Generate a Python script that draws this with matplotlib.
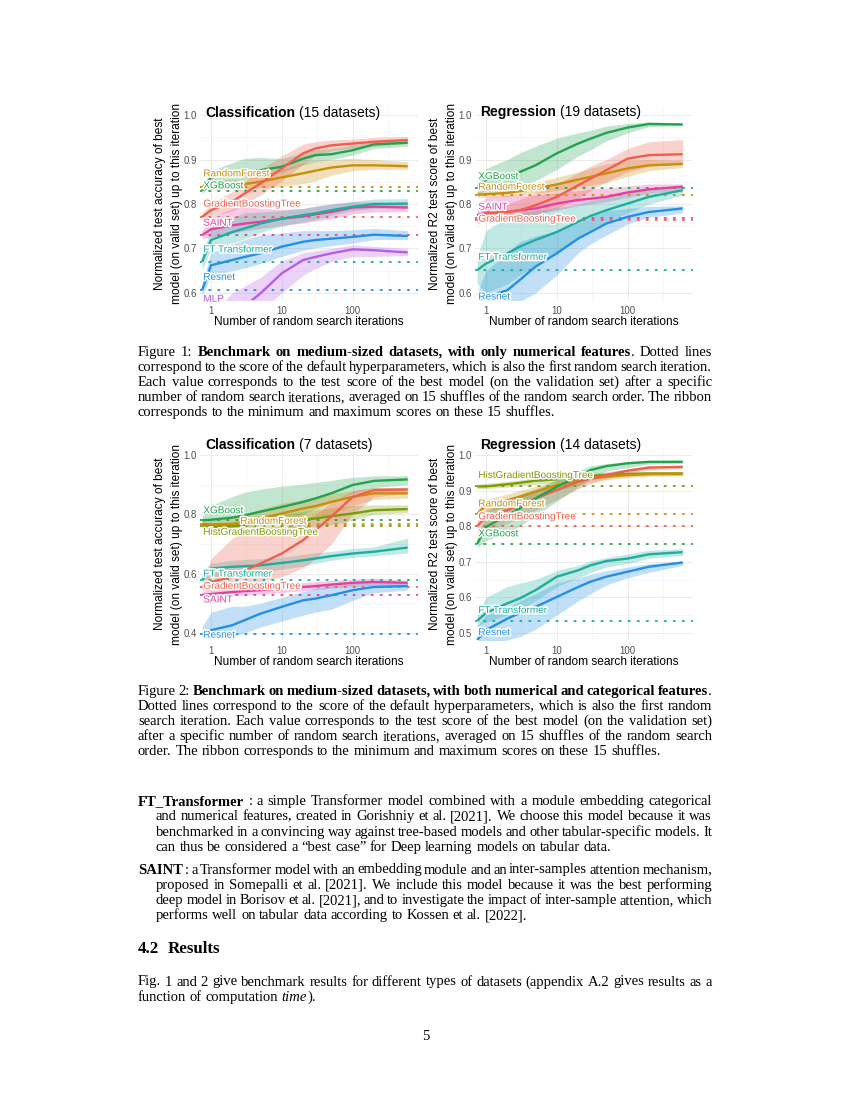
import re
import matplotlib
matplotlib.use("Agg")
import matplotlib.pyplot as plt
import matplotlib.patheffects as pe
from matplotlib.ticker import NullFormatter

# ======================= DATA =======================
ITER = [0.75, 1, 2, 3, 5, 10, 20, 30, 50, 100, 200, 600]
X_TICKS = [1, 10, 100]
X_TICK_LABELS = ["1", "10", "100"]

# ---- Figure 1, Classification (15 datasets) ----
f1c_names = ["RandomForest", "XGBoost", "GradientBoostingTree", "SAINT",
             "FT Transformer", "Resnet", "MLP"]
f1c_default = [0.839, 0.830, 0.771, 0.730, 0.670, 0.606, 0.500]
f1c_rf = [0.839, 0.842, 0.843, 0.845, 0.850, 0.860, 0.869, 0.875, 0.882, 0.887, 0.887, 0.885]
f1c_rf_lo = [0.832, 0.832, 0.833, 0.834, 0.836, 0.840, 0.846, 0.852, 0.865, 0.875, 0.878, 0.878]
f1c_rf_hi = [0.846, 0.852, 0.855, 0.857, 0.864, 0.878, 0.893, 0.898, 0.900, 0.903, 0.900, 0.895]
f1c_xgb = [0.830, 0.860, 0.869, 0.872, 0.876, 0.884, 0.902, 0.910, 0.912, 0.921, 0.934, 0.938]
f1c_xgb_lo = [0.822, 0.845, 0.852, 0.856, 0.862, 0.872, 0.888, 0.896, 0.900, 0.910, 0.925, 0.930]
f1c_xgb_hi = [0.838, 0.875, 0.893, 0.903, 0.905, 0.902, 0.915, 0.922, 0.925, 0.932, 0.942, 0.946]
f1c_gbt = [0.771, 0.786, 0.805, 0.824, 0.846, 0.880, 0.914, 0.925, 0.932, 0.936, 0.940, 0.944]
f1c_gbt_lo = [0.762, 0.772, 0.785, 0.800, 0.820, 0.852, 0.890, 0.908, 0.920, 0.926, 0.930, 0.936]
f1c_gbt_hi = [0.780, 0.800, 0.828, 0.850, 0.878, 0.908, 0.935, 0.940, 0.944, 0.946, 0.950, 0.952]
f1c_saint = [0.730, 0.743, 0.752, 0.756, 0.760, 0.767, 0.772, 0.777, 0.782, 0.792, 0.794, 0.792]
f1c_saint_lo = [0.722, 0.726, 0.734, 0.740, 0.745, 0.752, 0.757, 0.762, 0.767, 0.778, 0.782, 0.783]
f1c_saint_hi = [0.740, 0.770, 0.790, 0.795, 0.790, 0.788, 0.790, 0.795, 0.800, 0.805, 0.805, 0.800]
f1c_ft = [0.670, 0.719, 0.737, 0.745, 0.756, 0.767, 0.775, 0.779, 0.786, 0.794, 0.800, 0.801]
f1c_ft_lo = [0.652, 0.700, 0.712, 0.722, 0.736, 0.750, 0.760, 0.765, 0.775, 0.785, 0.790, 0.792]
f1c_ft_hi = [0.690, 0.742, 0.770, 0.780, 0.782, 0.785, 0.790, 0.795, 0.800, 0.806, 0.811, 0.812]
f1c_resnet = [0.606, 0.662, 0.674, 0.681, 0.689, 0.704, 0.715, 0.719, 0.722, 0.726, 0.731, 0.728]
f1c_resnet_lo = [0.592, 0.640, 0.650, 0.656, 0.666, 0.682, 0.696, 0.702, 0.706, 0.712, 0.720, 0.720]
f1c_resnet_hi = [0.620, 0.690, 0.710, 0.720, 0.730, 0.735, 0.740, 0.740, 0.740, 0.742, 0.745, 0.740]
f1c_mlp = [0.500, 0.520, 0.550, 0.570, 0.599, 0.644, 0.674, 0.681, 0.689, 0.698, 0.696, 0.691]
f1c_mlp_lo = [0.480, 0.500, 0.520, 0.540, 0.560, 0.600, 0.640, 0.655, 0.670, 0.682, 0.682, 0.684]
f1c_mlp_hi = [0.520, 0.550, 0.600, 0.615, 0.635, 0.672, 0.690, 0.695, 0.700, 0.708, 0.705, 0.700]

# ---- Figure 1, Regression (19 datasets) ----
f1r_names = ["XGBoost", "RandomForest", "SAINT", "GradientBoostingTree",
             "FT Transformer", "Resnet"]
f1r_default = [0.835, 0.821, 0.768, 0.763, 0.651, 0.550]
f1r_xgb = [0.835, 0.855, 0.863, 0.872, 0.887, 0.914, 0.936, 0.947, 0.960, 0.972, 0.980, 0.979]
f1r_xgb_lo = [0.822, 0.830, 0.835, 0.842, 0.852, 0.878, 0.908, 0.922, 0.942, 0.960, 0.974, 0.976]
f1r_xgb_hi = [0.848, 0.880, 0.900, 0.915, 0.930, 0.948, 0.960, 0.966, 0.975, 0.981, 0.985, 0.982]
f1r_rf = [0.821, 0.822, 0.825, 0.829, 0.835, 0.844, 0.855, 0.861, 0.869, 0.880, 0.887, 0.890]
f1r_rf_lo = [0.815, 0.815, 0.817, 0.820, 0.824, 0.830, 0.838, 0.842, 0.848, 0.862, 0.875, 0.882]
f1r_rf_hi = [0.828, 0.830, 0.834, 0.840, 0.848, 0.860, 0.872, 0.880, 0.890, 0.898, 0.900, 0.898]
f1r_saint = [0.775, 0.780, 0.782, 0.786, 0.790, 0.801, 0.809, 0.812, 0.816, 0.826, 0.833, 0.839]
f1r_saint_lo = [0.762, 0.765, 0.768, 0.772, 0.776, 0.786, 0.796, 0.800, 0.805, 0.815, 0.824, 0.832]
f1r_saint_hi = [0.790, 0.815, 0.820, 0.820, 0.820, 0.825, 0.830, 0.834, 0.836, 0.840, 0.845, 0.845]
f1r_gbt = [0.763, 0.779, 0.782, 0.786, 0.797, 0.816, 0.842, 0.857, 0.876, 0.902, 0.910, 0.912]
f1r_gbt_lo = [0.755, 0.765, 0.768, 0.772, 0.776, 0.790, 0.812, 0.830, 0.850, 0.872, 0.885, 0.890]
f1r_gbt_hi = [0.772, 0.792, 0.800, 0.810, 0.825, 0.845, 0.870, 0.885, 0.900, 0.925, 0.940, 0.945]
f1r_ft = [0.651, 0.666, 0.689, 0.704, 0.719, 0.737, 0.760, 0.773, 0.786, 0.801, 0.816, 0.831]
f1r_ft_lo = [0.620, 0.600, 0.620, 0.640, 0.662, 0.692, 0.722, 0.742, 0.760, 0.780, 0.800, 0.820]
f1r_ft_hi = [0.680, 0.740, 0.770, 0.780, 0.785, 0.792, 0.800, 0.808, 0.815, 0.825, 0.835, 0.840]
f1r_resnet = [0.575, 0.590, 0.606, 0.629, 0.659, 0.689, 0.722, 0.737, 0.756, 0.771, 0.782, 0.790]
f1r_resnet_lo = [0.550, 0.550, 0.560, 0.580, 0.600, 0.640, 0.690, 0.710, 0.730, 0.755, 0.770, 0.780]
f1r_resnet_hi = [0.600, 0.650, 0.690, 0.715, 0.728, 0.740, 0.758, 0.770, 0.785, 0.790, 0.795, 0.796]

# ---- Figure 2, Classification (7 datasets) ----
f2c_names = ["XGBoost", "RandomForest", "HistGradientBoostingTree", "FT Transformer",
             "GradientBoostingTree", "SAINT", "Resnet"]
f2c_default = [0.780, 0.768, 0.762, 0.578, 0.555, 0.528, 0.395]
f2c_xgb = [0.780, 0.782, 0.789, 0.797, 0.809, 0.825, 0.842, 0.854, 0.871, 0.899, 0.913, 0.918]
f2c_xgb_lo = [0.765, 0.762, 0.762, 0.765, 0.770, 0.782, 0.800, 0.818, 0.840, 0.870, 0.890, 0.900]
f2c_xgb_hi = [0.795, 0.830, 0.860, 0.875, 0.885, 0.895, 0.902, 0.908, 0.915, 0.925, 0.930, 0.930]
f2c_rf = [0.768, 0.766, 0.768, 0.775, 0.786, 0.803, 0.820, 0.828, 0.842, 0.859, 0.871, 0.871]
f2c_rf_lo = [0.758, 0.755, 0.755, 0.758, 0.762, 0.770, 0.785, 0.790, 0.800, 0.830, 0.850, 0.855]
f2c_rf_hi = [0.778, 0.780, 0.790, 0.800, 0.818, 0.838, 0.850, 0.860, 0.870, 0.880, 0.890, 0.890]
f2c_hgbt = [0.762, 0.758, 0.760, 0.764, 0.769, 0.775, 0.783, 0.786, 0.794, 0.803, 0.814, 0.818]
f2c_hgbt_lo = [0.755, 0.752, 0.750, 0.750, 0.750, 0.752, 0.755, 0.760, 0.765, 0.780, 0.800, 0.806]
f2c_hgbt_hi = [0.768, 0.768, 0.772, 0.778, 0.788, 0.800, 0.810, 0.815, 0.822, 0.830, 0.832, 0.832]
f2c_ft = [0.578, 0.617, 0.623, 0.625, 0.628, 0.636, 0.645, 0.651, 0.659, 0.668, 0.674, 0.688]
f2c_ft_lo = [0.565, 0.590, 0.595, 0.600, 0.605, 0.615, 0.625, 0.635, 0.645, 0.655, 0.660, 0.670]
f2c_ft_hi = [0.600, 0.635, 0.645, 0.648, 0.650, 0.655, 0.665, 0.670, 0.675, 0.685, 0.690, 0.720]
f2c_gbt = [0.555, 0.572, 0.589, 0.611, 0.634, 0.668, 0.713, 0.747, 0.792, 0.859, 0.882, 0.884]
f2c_gbt_lo = [0.540, 0.545, 0.550, 0.560, 0.570, 0.590, 0.620, 0.650, 0.700, 0.800, 0.860, 0.870]
f2c_gbt_hi = [0.570, 0.650, 0.720, 0.740, 0.750, 0.760, 0.780, 0.800, 0.840, 0.880, 0.890, 0.892]
f2c_saint = [0.528, 0.531, 0.538, 0.541, 0.544, 0.550, 0.555, 0.558, 0.563, 0.569, 0.572, 0.569]
f2c_saint_lo = [0.520, 0.520, 0.525, 0.528, 0.531, 0.537, 0.542, 0.546, 0.551, 0.557, 0.560, 0.560]
f2c_saint_hi = [0.538, 0.545, 0.552, 0.556, 0.560, 0.565, 0.570, 0.573, 0.577, 0.582, 0.585, 0.578]
f2c_resnet = [0.395, 0.409, 0.426, 0.443, 0.465, 0.488, 0.510, 0.516, 0.527, 0.544, 0.555, 0.558]
f2c_resnet_lo = [0.380, 0.385, 0.390, 0.400, 0.420, 0.440, 0.460, 0.470, 0.480, 0.510, 0.535, 0.545]
f2c_resnet_hi = [0.420, 0.470, 0.490, 0.490, 0.500, 0.520, 0.540, 0.550, 0.560, 0.570, 0.575, 0.570]

# ---- Figure 2, Regression (14 datasets) ----
f2r_names = ["HistGradientBoostingTree", "RandomForest", "GradientBoostingTree", "XGBoost",
             "FT Transformer", "Resnet"]
f2r_default = [0.912, 0.833, 0.800, 0.750, 0.533, 0.470]
f2r_hgbt = [0.912, 0.912, 0.918, 0.922, 0.928, 0.932, 0.937, 0.941, 0.944, 0.947, 0.948, 0.948]
f2r_hgbt_lo = [0.906, 0.906, 0.910, 0.913, 0.918, 0.923, 0.930, 0.935, 0.938, 0.941, 0.942, 0.942]
f2r_hgbt_hi = [0.918, 0.920, 0.926, 0.930, 0.936, 0.941, 0.945, 0.948, 0.951, 0.953, 0.954, 0.954]
f2r_rf = [0.834, 0.859, 0.873, 0.883, 0.897, 0.916, 0.928, 0.934, 0.939, 0.944, 0.947, 0.948]
f2r_rf_lo = [0.826, 0.840, 0.855, 0.866, 0.880, 0.900, 0.915, 0.924, 0.931, 0.937, 0.941, 0.943]
f2r_rf_hi = [0.845, 0.876, 0.890, 0.900, 0.912, 0.928, 0.938, 0.942, 0.946, 0.950, 0.953, 0.953]
f2r_gbt = [0.800, 0.826, 0.845, 0.859, 0.878, 0.902, 0.925, 0.934, 0.944, 0.956, 0.965, 0.967]
f2r_gbt_lo = [0.780, 0.790, 0.808, 0.822, 0.845, 0.875, 0.905, 0.920, 0.934, 0.948, 0.958, 0.962]
f2r_gbt_hi = [0.815, 0.848, 0.870, 0.885, 0.900, 0.920, 0.937, 0.945, 0.953, 0.962, 0.970, 0.971]
f2r_xgb = [0.750, 0.798, 0.831, 0.850, 0.878, 0.911, 0.939, 0.958, 0.969, 0.977, 0.981, 0.981]
f2r_xgb_lo = [0.740, 0.760, 0.780, 0.800, 0.830, 0.870, 0.910, 0.935, 0.955, 0.965, 0.975, 0.977]
f2r_xgb_hi = [0.765, 0.840, 0.875, 0.890, 0.905, 0.930, 0.955, 0.970, 0.976, 0.982, 0.986, 0.986]
f2r_ft = [0.534, 0.556, 0.583, 0.597, 0.620, 0.658, 0.676, 0.690, 0.702, 0.709, 0.721, 0.727]
f2r_ft_lo = [0.520, 0.530, 0.550, 0.565, 0.590, 0.630, 0.655, 0.670, 0.685, 0.695, 0.710, 0.718]
f2r_ft_hi = [0.550, 0.600, 0.630, 0.640, 0.650, 0.675, 0.690, 0.702, 0.712, 0.722, 0.732, 0.737]
f2r_resnet = [0.480, 0.508, 0.540, 0.556, 0.573, 0.601, 0.629, 0.644, 0.658, 0.672, 0.686, 0.698]
f2r_resnet_lo = [0.470, 0.470, 0.480, 0.490, 0.510, 0.550, 0.590, 0.610, 0.635, 0.655, 0.670, 0.690]
f2r_resnet_hi = [0.520, 0.550, 0.570, 0.590, 0.610, 0.640, 0.655, 0.665, 0.675, 0.685, 0.695, 0.702]

# ---- texts ----
CAPTION1 = [
    "Figure 1: <b>Benchmark on medium-sized datasets, with only numerical features</b>. Dotted lines",
    "correspond to the score of the default hyperparameters, which is also the first random search iteration.",
    "Each value corresponds to the test score of the best model (on the validation set) after a specific",
    "number of random search iterations, averaged on 15 shuffles of the random search order. The ribbon",
    "corresponds to the minimum and maximum scores on these 15 shuffles.",
]
CAPTION2 = [
    "Figure 2: <b>Benchmark on medium-sized datasets, with both numerical and categorical features</b>.",
    "Dotted lines correspond to the score of the default hyperparameters, which is also the first random",
    "search iteration. Each value corresponds to the test score of the best model (on the validation set)",
    "after a specific number of random search iterations, averaged on 15 shuffles of the random search",
    "order. The ribbon corresponds to the minimum and maximum scores on these 15 shuffles.",
]
ITEM_FT = [
    "<b>FT_Transformer</b> : a simple Transformer model combined with a module embedding categorical",
    "and numerical features, created in Gorishniy et al. [2021]. We choose this model because it was",
    "benchmarked in a convincing way against tree-based models and other tabular-specific models. It",
    "can thus be considered a \u201cbest case\u201d for Deep learning models on tabular data.",
]
ITEM_SAINT = [
    "<b>SAINT</b> : a Transformer model with an embedding module and an inter-samples attention mechanism,",
    "proposed in Somepalli et al. [2021]. We include this model because it was the best performing",
    "deep model in Borisov et al. [2021], and to investigate the impact of inter-sample attention, which",
    "performs well on tabular data according to Kossen et al. [2022].",
]
RESULTS_PARA = [
    "Fig. 1 and 2 give benchmark results for different types of datasets (appendix A.2 gives results as a",
    "function of computation <i>time</i>).",
]

# ======================= STYLE / LAYOUT =======================
W, H = 850, 1100
SANS = "Liberation Sans"
SERIF = "Liberation Serif"
BODY_FS = 10.5
COLORS = {
    "RandomForest": "#C98F0A",
    "XGBoost": "#22A34F",
    "GradientBoostingTree": "#EF5F4C",
    "SAINT": "#E5409F",
    "FT Transformer": "#1EAD9E",
    "Resnet": "#2290E6",
    "MLP": "#B45EEA",
    "HistGradientBoostingTree": "#7A9C04",
}

fig = plt.figure(figsize=(W / 100, H / 100), dpi=100)
fig.patch.set_facecolor("white")
renderer = fig.canvas.get_renderer()


def fx(x):
    return x / W


def fy(y):
    return 1 - y / H


_wcache = {}


def ink(s, bold=False, ital=False, fs=BODY_FS, fam=SERIF):
    key = (s, bold, ital, fs, fam)
    if key not in _wcache:
        t = fig.text(0, 0, s, fontsize=fs, family=fam,
                     weight="bold" if bold else "normal",
                     style="italic" if ital else "normal")
        _wcache[key] = t.get_window_extent(renderer).width
        t.remove()
    return _wcache[key]


def adv(s, bold=False, ital=False, fs=BODY_FS, fam=SERIF):
    """advance width of s (bracketed between bars to cancel side bearings)"""
    return ink("|" + s + "|", bold, ital, fs, fam) - ink("||", bold, ital, fs, fam)


def parse_words(line):
    words, cur, buf = [], [], ""
    bold = ital = False
    for tok in re.split(r"(<b>|</b>|<i>|</i>| )", line):
        if not tok:
            continue
        if tok in ("<b>", "</b>", "<i>", "</i>", " "):
            if buf:
                cur.append((buf, bold, ital))
                buf = ""
            if tok == " ":
                if cur:
                    words.append(cur)
                    cur = []
            elif tok == "<b>":
                bold = True
            elif tok == "</b>":
                bold = False
            elif tok == "<i>":
                ital = True
            else:
                ital = False
        else:
            buf += tok
    if buf:
        cur.append((buf, bold, ital))
    if cur:
        words.append(cur)
    return words


def draw_line(line, x0, x1, ybase, justify=True, fs=BODY_FS, fam=SERIF):
    words = parse_words(line)
    widths = [[adv(s, b, i, fs, fam) for (s, b, i) in w] for w in words]
    total = sum(sum(ws) for ws in widths)
    space = adv(" ", fs=fs, fam=fam)
    if justify and len(words) > 1:
        gap = (x1 - x0 - total) / (len(words) - 1)
    else:
        gap = space
    x = x0
    for w, ws in zip(words, widths):
        for (s, b, i), sw in zip(w, ws):
            fig.text(fx(x), fy(ybase), s, fontsize=fs, family=fam,
                     weight="bold" if b else "normal",
                     style="italic" if i else "normal",
                     ha="left", va="baseline", color="black")
            x += sw
        x += gap


def panel(box, ylim, yticks, yminor, title_b, title_r, title_y, ylabel, ylabel_x,
          names, means, los, his, defaults, label_y, label_x):
    l, t, r, b = box
    ax = fig.add_axes([fx(l), fy(b), (r - l) / W, (b - t) / H])
    ax.set_xscale("log")
    ax.set_xlim(0.70, 840)
    ax.set_ylim(*ylim)
    for sp in ax.spines.values():
        sp.set_visible(False)
    ax.set_xticks(X_TICKS)
    ax.set_xticklabels(X_TICK_LABELS)
    ax.set_xticks([10 ** 0.5, 10 ** 1.5, 10 ** 2.5], minor=True)
    ax.xaxis.set_minor_formatter(NullFormatter())
    ax.set_yticks(yticks)
    ax.set_yticklabels([f"{v:.1f}" for v in yticks])
    ax.set_yticks(yminor, minor=True)
    ax.yaxis.set_minor_formatter(NullFormatter())
    ax.grid(which="major", color="#EBEBEB", lw=0.7)
    ax.grid(which="minor", color="#F3F3F3", lw=0.45)
    ax.set_axisbelow(True)
    ax.tick_params(which="both", length=0, labelsize=6.9, labelcolor="#4D4D4D")
    ax.tick_params(axis="x", pad=4.5)
    ax.tick_params(axis="y", pad=2.2)
    for lab in ax.get_xticklabels() + ax.get_yticklabels():
        lab.set_family(SANS)

    for n, lo, hi in zip(names, los, his):
        ax.fill_between(ITER, lo, hi, color=COLORS[n], alpha=0.28, lw=0, zorder=1)
    for n, d in zip(names, defaults):
        ax.axhline(d, color=COLORS[n], lw=1.3, ls=(0, (0.8, 4.2)), zorder=2,
                   dash_capstyle="round")
    for n, m in zip(names, means):
        ax.plot(ITER, m, color=COLORS[n], lw=1.7, zorder=3, solid_capstyle="butt")
    for n, ly, lx in zip(names, label_y, label_x):
        ax.text(lx, ly, n, color=COLORS[n], fontsize=7.2, family=SANS,
                ha="left", va="center", zorder=5,
                path_effects=[pe.withStroke(linewidth=2.2, foreground="white")])

    # title inside panel
    tx = l + 5
    bw = adv(title_b, True, False, 10, SANS)
    sp = adv(" ", fs=10, fam=SANS)
    fig.text(fx(tx), fy(title_y), title_b, fontsize=10, family=SANS, weight="bold",
             ha="left", va="center", color="black")
    fig.text(fx(tx + bw + sp), fy(title_y), title_r, fontsize=10, family=SANS,
             ha="left", va="center", color="black")
    # axis titles
    fig.text(fx(ylabel_x), fy((t + b) / 2), ylabel, rotation=90, fontsize=8.6,
             family=SANS, ha="center", va="center", linespacing=1.45, color="black")
    fig.text(fx((l + r) / 2), fy(b + 21.7), "Number of random search iterations",
             fontsize=8.6, family=SANS, ha="center", va="center", color="black")
    return ax


YLAB_CLF = "Normalized test accuracy of best\nmodel (on valid set) up to this iteration"
YLAB_REG = "Normalized R2 test score of best\nmodel (on valid set) up to this iteration"

panel((200, 108, 418, 300), (0.584, 1.016), [0.6, 0.7, 0.8, 0.9, 1.0],
      [0.65, 0.75, 0.85, 0.95], "Classification", "(15 datasets)", 112.7,
      YLAB_CLF, 168.5, f1c_names,
      [f1c_rf, f1c_xgb, f1c_gbt, f1c_saint, f1c_ft, f1c_resnet, f1c_mlp],
      [f1c_rf_lo, f1c_xgb_lo, f1c_gbt_lo, f1c_saint_lo, f1c_ft_lo, f1c_resnet_lo, f1c_mlp_lo],
      [f1c_rf_hi, f1c_xgb_hi, f1c_gbt_hi, f1c_saint_hi, f1c_ft_hi, f1c_resnet_hi, f1c_mlp_hi],
      f1c_default,
      [0.869, 0.842, 0.801, 0.758, 0.698, 0.636, 0.587],
      [0.78] * 7)

panel((475, 108, 693, 300), (0.584, 1.016), [0.6, 0.7, 0.8, 0.9, 1.0],
      [0.65, 0.75, 0.85, 0.95], "Regression", "(19 datasets)", 111.7,
      YLAB_REG, 443.5, f1r_names,
      [f1r_xgb, f1r_rf, f1r_saint, f1r_gbt, f1r_ft, f1r_resnet],
      [f1r_xgb_lo, f1r_rf_lo, f1r_saint_lo, f1r_gbt_lo, f1r_ft_lo, f1r_resnet_lo],
      [f1r_xgb_hi, f1r_rf_hi, f1r_saint_hi, f1r_gbt_hi, f1r_ft_hi, f1r_resnet_hi],
      f1r_default,
      [0.863, 0.839, 0.794, 0.767, 0.681, 0.592],
      [0.78] * 6)

panel((200, 448, 418, 640), (0.376, 1.024), [0.4, 0.6, 0.8, 1.0],
      [0.5, 0.7, 0.9], "Classification", "(7 datasets)", 445,
      YLAB_CLF, 168.5, f2c_names,
      [f2c_xgb, f2c_rf, f2c_hgbt, f2c_ft, f2c_gbt, f2c_saint, f2c_resnet],
      [f2c_xgb_lo, f2c_rf_lo, f2c_hgbt_lo, f2c_ft_lo, f2c_gbt_lo, f2c_saint_lo, f2c_resnet_lo],
      [f2c_xgb_hi, f2c_rf_hi, f2c_hgbt_hi, f2c_ft_hi, f2c_gbt_hi, f2c_saint_hi, f2c_resnet_hi],
      f2c_default,
      [0.814, 0.778, 0.741, 0.600, 0.559, 0.513, 0.394],
      [0.78, 2.6, 0.78, 0.78, 0.78, 0.78, 0.78])

panel((475, 448, 693, 640), (0.480, 1.020), [0.5, 0.6, 0.7, 0.8, 0.9, 1.0],
      [0.55, 0.65, 0.75, 0.85, 0.95], "Regression", "(14 datasets)", 445,
      YLAB_REG, 443.5, f2r_names,
      [f2r_hgbt, f2r_rf, f2r_gbt, f2r_xgb, f2r_ft, f2r_resnet],
      [f2r_hgbt_lo, f2r_rf_lo, f2r_gbt_lo, f2r_xgb_lo, f2r_ft_lo, f2r_resnet_lo],
      [f2r_hgbt_hi, f2r_rf_hi, f2r_gbt_hi, f2r_xgb_hi, f2r_ft_hi, f2r_resnet_hi],
      f2r_default,
      [0.944, 0.864, 0.828, 0.780, 0.564, 0.502],
      [0.78] * 6)

# ======================= TEXT BLOCKS =======================
TL, TR = 138, 712
INDENT = 156


def block(lines, x_first, x_rest, y0, lead):
    for k, ln in enumerate(lines):
        last = k == len(lines) - 1
        draw_line(ln, x_first if k == 0 else x_rest, TR, y0 + k * lead, justify=not last)


block(CAPTION1, TL, TL, 356, 15.0)
block(CAPTION2, TL, TL, 695, 15.0)
block(ITEM_FT, TL, INDENT, 805, 15.3)
block(ITEM_SAINT, TL, INDENT, 873.5, 15.3)
fig.text(fx(TL), fy(953), "4.2", fontsize=12.2, family=SERIF, weight="bold", ha="left", va="baseline")
fig.text(fx(168), fy(953), "Results", fontsize=12.2, family=SERIF, weight="bold", ha="left", va="baseline")
block(RESULTS_PARA, TL, TL, 985.5, 15.3)
fig.text(fx(426), fy(1040.5), "5", fontsize=BODY_FS, family=SERIF, ha="center", va="baseline")

fig.savefig("out.png", dpi=100, facecolor="white")
